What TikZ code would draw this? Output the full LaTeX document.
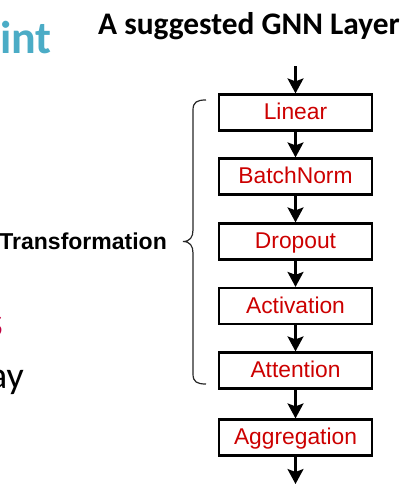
\documentclass[tikz,border=0pt]{standalone}
\usepackage{fontspec}
\usetikzlibrary{arrows.meta}
\newfontfamily\arialfont{Liberation Sans}
\newfontfamily\calibrifont{Carlito}
\definecolor{boxred}{HTML}{CC0000}
\definecolor{slideblue}{HTML}{4BACC6}
\definecolor{slidered}{HTML}{C00040}
\tikzset{
	stage/.style={draw, line width=2.2bp, minimum width=153bp, minimum height=36bp, inner sep=0pt,
		text=boxred, font=\arialfont\fontsize{22.8bp}{27bp}\selectfont, text height=15bp, text depth=1bp},
	flow/.style={line width=2.2bp, -{Stealth[length=15bp,width=16bp,inset=3bp]}},
	bracket/.style={line width=1.2bp, black!85}
}

\begin{document}
\begin{tikzpicture}[x=1bp, y=-1bp]
			%%%%% START %%%%%
			\useasboundingbox (0, 0) rectangle (413, 494);
			\clip (0, 0) rectangle (413, 494);
			
			% cut-off slide text at the left edge
			\node[anchor=base west, inner sep=0pt, text=slideblue, font=\calibrifont\bfseries\fontsize{46bp}{50bp}\selectfont] (slidetitle) at (0, 53.3) {int};
			\node[anchor=base east, inner sep=0pt, text=slidered, font=\calibrifont\fontsize{43bp}{48bp}\selectfont] (slidered) at (3.5, 336.7) {s};
			\node[anchor=base east, inner sep=0pt, font=\calibrifont\fontsize{38bp}{44bp}\selectfont] (slideblack) at (24, 388) {ay};
			
			% title
			\node[anchor=base, inner sep=0pt, font=\calibrifont\bfseries\fontsize{31.4bp}{36bp}\selectfont] (title) at (249, 35) {A suggested GNN Layer};
			
			% layer stages
			\node[stage] (linear) at (295.5, 112.5) {Linear};
			\node[stage] (batchnorm) at (295.5, 176.5) {BatchNorm};
			\node[stage] (dropout) at (295.5, 241.5) {Dropout};
			\node[stage] (activation) at (295.5, 306) {Activation};
			\node[stage] (attention) at (295.5, 370.5) {Attention};
			\node[stage] (aggregation) at (295.5, 437.5) {Aggregation};
			
			\coordinate (in) at (295.5, 66.5);
			\coordinate (out) at (295.5, 484);
			
			\draw[flow] (in) -- (linear);
			\draw[flow] (linear) -- (batchnorm);
			\draw[flow] (batchnorm) -- (dropout);
			\draw[flow] (dropout) -- (activation);
			\draw[flow] (activation) -- (attention);
			\draw[flow] (attention) -- (aggregation);
			\draw[flow] (aggregation) -- (out);
			
			% brace
			\draw[bracket] (206, 100) .. controls (197, 100) and (193, 102) .. (193, 110)
				-- (193, 230) .. controls (193, 237) and (190, 241.5) .. (183, 241.5)
				.. controls (190, 241.5) and (193, 246) .. (193, 253)
				-- (193, 374) .. controls (193, 382) and (197, 384) .. (206, 384);
			
			\node[anchor=base east, inner sep=0pt, font=\arialfont\bfseries\fontsize{23bp}{27bp}\selectfont] (transformation) at (167, 249.3) {Transformation};
			%%%%% END %%%%%
		\end{tikzpicture}
\end{document}
